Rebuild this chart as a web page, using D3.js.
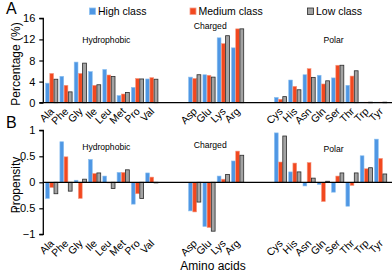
<!DOCTYPE html>
<html><head><meta charset="utf-8">
<script src="https://cdn.jsdelivr.net/npm/d3@7"></script>
<style>
body{margin:0;background:#fff;}
svg{display:block;font-family:"Liberation Sans",Arial,sans-serif;}
</style></head>
<body><svg id="c" width="392" height="274"></svg>
<script>
const hydrophobic = ["Ala","Phe","Gly","Ile","Leu","Met","Pro","Val"];
const charged = ["Asp","Glu","Lys","Arg"];
const polar = ["Cys","His","Asn","Gln","Ser","Thr","Trp","Tyr"];
const seriesNames = ["High class","Medium class","Low class"];
const groupLabels = ["Hydrophobic","Charged","Polar"];

// Panel A: percentage (%)
const pctHigh   = [3.7,5.0,7.7,5.9,6.3,1.35,2.9,4.5, 4.85,5.3,12.3,10.4, 1.0,4.3,5.3,5.2,4.7,3.3,0.1,0.1];
const pctMedium = [5.55,3.3,5.55,3.3,5.25,1.65,4.6,4.75, 4.6,5.2,11.2,14.0, 0.65,3.1,6.45,3.55,7.1,5.05,0.1,0.1];
const pctLow    = [4.45,2.05,7.5,3.4,4.95,1.95,4.5,4.45, 5.3,4.85,12.7,14.0, 1.15,2.45,4.8,4.15,7.1,6.05,0.1,0.1];
// Panel B: propensity
const propHigh   = [-0.31,0.78,0.04,0.44,0.12,0.19,-0.42,0.18, -0.55,-0.85,0.12,0.41, 0.95,0.2,-0.07,-0.04,-0.19,-0.46,0.51,0.83];
const propMedium = [-0.1,0.49,-0.31,0.17,0.0,0.19,-0.22,0.1, -0.57,-0.87,0.06,0.6, 0.39,0.37,0.38,-0.37,0.12,-0.06,0.26,0.46];
const propLow    = [-0.22,-0.17,0.06,0.18,-0.12,0.24,-0.31,-0.01, -0.38,-0.94,0.15,0.52, 0.89,0.2,0.08,0.02,0.18,0.18,0.28,0.16];

const pctTicks = [0,4,8,12,16];
const propTicks = [-1,-0.5,0,0.5,1];

const colors = {"High class":"#4f97e4","Medium class":"#f2481f","Low class":"#a3a3a3"};
const strokes = {"High class":"#8cc0f0","Medium class":"#f59a85","Low class":"#2a2a2a"};

const cats = hydrophobic.concat(charged, polar);
const slots = [...hydrophobic,"_g1","_g2",...charged,"_g3","_g4",...polar];

const svg = d3.select("#c");
const x = d3.scaleBand().domain(slots).range([44.6, 44.6+24*14.3]).padding(0);
const xi = d3.scaleBand().domain(seriesNames).range([1.0, 13.2]).paddingInner(0.1);

function panel(yDomain, yRange, ticks, data, opts){
  const y = d3.scaleLinear().domain(yDomain).range(yRange);
  const g = svg.append("g");
  const rows = [];
  cats.forEach((c,i)=>seriesNames.forEach((s,k)=>rows.push({c, s, v:data[k][i]})));
  g.selectAll("rect.bar").data(rows).enter().append("rect")
    .attr("x", d=>x(d.c)+xi(d.s))
    .attr("width", xi.bandwidth())
    .attr("y", d=>Math.min(y(d.v), y(0)))
    .attr("height", d=>Math.max(0.6, Math.abs(y(d.v)-y(0))))
    .attr("fill", d=>colors[d.s])
    .attr("stroke", d=>strokes[d.s])
    .attr("stroke-width", d=>d.s==="Low class"?0.8:0.6);
  const ya = g.append("g").attr("transform","translate(43.3,0)")
    .call(d3.axisLeft(y).tickValues(ticks).tickSize(4).tickPadding(4).tickFormat(d3.format("")));
  ya.select(".domain").attr("stroke","#000").attr("stroke-width",1.3).attr("d",`M-4,${y(yDomain[1])}H0V${y(yDomain[0])}H-4`);
  ya.selectAll(".tick line").attr("stroke","#000").attr("stroke-width",1.2);
  ya.selectAll(".tick text").attr("font-size","11px").attr("fill","#000").attr("font-family","Liberation Sans, Arial, sans-serif");
  g.append("line").attr("x1",43.3).attr("x2",392).attr("y1",y(0)).attr("y2",y(0)).attr("stroke","#000").attr("stroke-width",1.3);
  const xa = g.append("g").attr("transform",`translate(0,${opts.labelY})`)
    .call(d3.axisBottom(x).tickValues(cats).tickSize(0).tickPadding(0));
  xa.select(".domain").remove();
  xa.selectAll(".tick text").attr("font-size","10.5px").attr("fill","#000")
    .attr("font-family","Liberation Sans, Arial, sans-serif")
    .attr("text-anchor","end").attr("dy","0").attr("y",0).attr("x",0)
    .attr("transform","translate(3,9) rotate(-45)");
  const gx = [ (x("Ala")+x("Val")+x.bandwidth())/2, (x("Asp")+x("Arg")+x.bandwidth())/2, (x("Cys")+x("Tyr")+x.bandwidth())/2 ];
  groupLabels.forEach((t,i)=>{
    g.append("text").attr("x",gx[i]+opts.gdx[i]).attr("y",opts.gy[i]).attr("text-anchor","middle")
      .attr("font-size","8.6px").attr("fill","#000").text(t);
  });
  return y;
}

panel([0,16],[102.7,18.3],pctTicks,[pctHigh,pctMedium,pctLow],
  {labelY:103, gy:[43,29,43], gdx:[4.5,-6,3]});
panel([-1,1],[234.3,130.3],propTicks,[propHigh,propMedium,propLow],
  {labelY:235, gy:[149.5,147.5,152], gdx:[4.5,-6,3]});

svg.append("text").attr("transform","translate(20,64) rotate(-90)").attr("text-anchor","middle")
  .attr("font-size","12px").attr("fill","#000").text("Percentage (%)");
svg.append("text").attr("transform","translate(20,185) rotate(-90)").attr("text-anchor","middle")
  .attr("font-size","12px").attr("fill","#000").text("Propensity");
svg.append("text").attr("x",213).attr("y",270).attr("text-anchor","middle")
  .attr("font-size","12px").attr("fill","#000").text("Amino acids");
svg.append("text").attr("x",6).attr("y",14).attr("font-size","16px").attr("fill","#000").text("A");
svg.append("text").attr("x",6).attr("y",128).attr("font-size","16px").attr("fill","#000").text("B");

const legX = [89.5, 190, 307.5];
seriesNames.forEach((s,i)=>{
  const lg = svg.append("g").attr("transform",`translate(${legX[i]},8)`);
  lg.append("rect").attr("x",0).attr("y",0).attr("width",6).attr("height",6.5)
    .attr("fill",colors[s]).attr("stroke",strokes[s]).attr("stroke-width",0.8);
  lg.append("text").attr("x",8.5).attr("y",7.3).attr("font-size","10.5px").attr("fill","#000").text(s);
});
</script></body></html>
